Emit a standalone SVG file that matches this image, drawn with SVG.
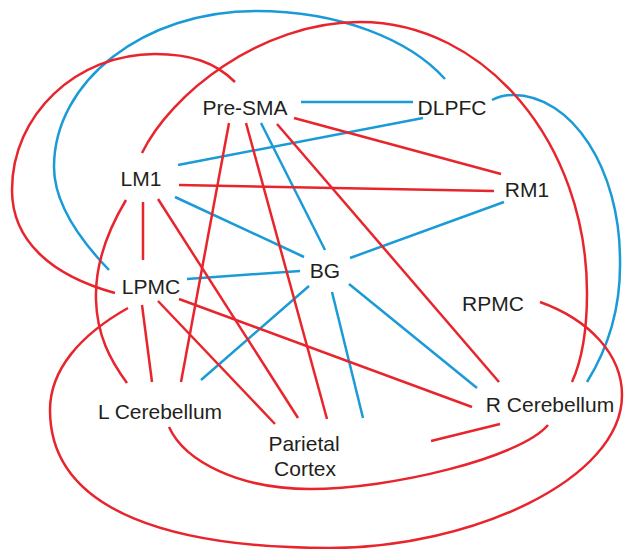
<svg xmlns="http://www.w3.org/2000/svg" width="624" height="549" viewBox="0 0 624 549">
  <style>
    .lbl { font-family: "Liberation Sans", Arial, Helvetica, sans-serif; font-size: 21px; fill: #231f20; text-anchor: middle; }
    .ex { stroke: #e8252d; }
    .in { stroke: #1a9bd7; }
    #connectors path, #connectors line { fill: none; stroke-width: 2.5; stroke-linecap: butt; }
  </style>
  <rect width="624" height="549" fill="#ffffff"/>

  <g id="connectors">
    <!-- blue straight links -->
    <line class="in" x1="301" y1="102" x2="413" y2="102"/>
    <line class="in" x1="178" y1="165" x2="423" y2="118"/>
    <line class="in" x1="175" y1="197" x2="304" y2="257"/>
    <line class="in" x1="261" y1="123" x2="325" y2="250"/>
    <line class="in" x1="504" y1="202" x2="350" y2="258"/>
    <line class="in" x1="187" y1="279" x2="300" y2="271"/>
    <line class="in" x1="309" y1="286" x2="201" y2="380"/>
    <line class="in" x1="332" y1="292" x2="363" y2="418"/>
    <line class="in" x1="349" y1="284" x2="477" y2="388"/>

    <!-- red straight links -->
    <line class="ex" x1="294" y1="118" x2="501" y2="174"/>
    <line class="ex" x1="179" y1="185" x2="494" y2="191"/>
    <line class="ex" x1="229" y1="123" x2="181" y2="382"/>
    <line class="ex" x1="246" y1="123" x2="327" y2="419"/>
    <line class="ex" x1="277" y1="124" x2="499" y2="382"/>
    <line class="ex" x1="143" y1="202" x2="143" y2="260"/>
    <line class="ex" x1="158" y1="199" x2="298" y2="418"/>
    <line class="ex" x1="142" y1="305" x2="152" y2="382"/>
    <line class="ex" x1="158" y1="301" x2="275" y2="424"/>
    <line class="ex" x1="179" y1="299" x2="472" y2="407"/>
    <line class="ex" x1="431" y1="441" x2="500" y2="424"/>

    <!-- blue curved links -->
    <path class="in" d="M109,270 C82,242 54,205 54,167 C54,81 144,11 256,11 C340,11 410,40 445,79"/>
    <path class="in" d="M492,100 C498,97 505,95 513,95 C572,95 620,169 620,260 C621,310 607,350 587,382"/>

    <!-- red curved links -->
    <path class="ex" d="M235,82 C215,62 190,54 155,54 C76,54 12,115 12,190 C12,240 50,275 115,293"/>
    <path class="ex" d="M142,153 C170,95 260,22 360,22 C485,22 587,143 587,293 C587,330 582,360 572,382"/>
    <path class="ex" d="M126,200 C105,235 95,270 96,300 C97,335 110,360 127,383"/>
    <path class="ex" d="M128,308 C80,335 50,370 50,410 C50,515 180,548 330,548 C470,548 622,480 622,395 C622,355 590,320 540,302"/>
    <path class="ex" d="M169,427 C185,462 240,489 310,489 C390,489 520,458 548,425"/>
  </g>

  <g id="node-presma"><text class="lbl" x="245" y="115">Pre-SMA</text></g>
  <g id="node-dlpfc"><text class="lbl" x="452" y="115">DLPFC</text></g>
  <g id="node-lm1"><text class="lbl" x="141" y="186">LM1</text></g>
  <g id="node-rm1"><text class="lbl" x="527" y="197">RM1</text></g>
  <g id="node-bg"><text class="lbl" x="325" y="278">BG</text></g>
  <g id="node-lpmc"><text class="lbl" x="151" y="294">LPMC</text></g>
  <g id="node-rpmc"><text class="lbl" x="493" y="311">RPMC</text></g>
  <g id="node-lcereb"><text class="lbl" x="160" y="419">L Cerebellum</text></g>
  <g id="node-parietal"><text class="lbl" x="304" y="451">Parietal</text><text class="lbl" x="305" y="476">Cortex</text></g>
  <g id="node-rcereb"><text class="lbl" x="550" y="412">R Cerebellum</text></g>
</svg>
